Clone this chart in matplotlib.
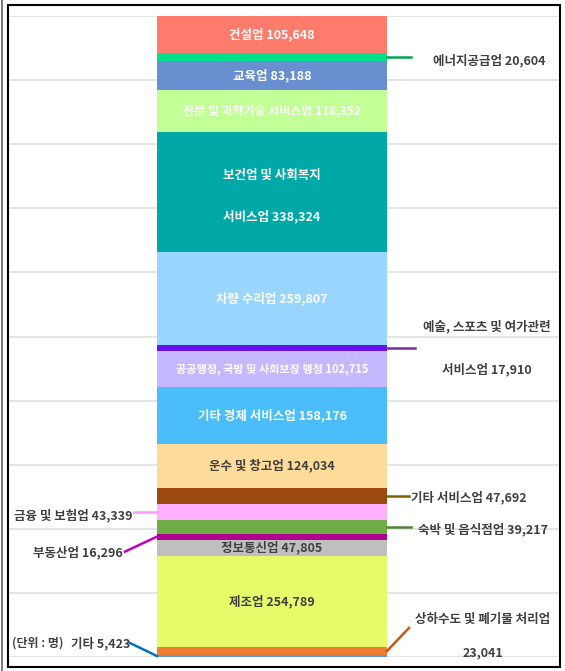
import matplotlib
matplotlib.use('Agg')
import matplotlib.pyplot as plt
import numpy as np
from matplotlib.patches import Rectangle
from matplotlib.lines import Line2D

plt.rcParams['font.family'] = ['Noto Sans CJK KR', 'DejaVu Sans']

# industries, bottom to top of the stacked bar
industries = ['기타', '상하수도 및 폐기물 처리업', '제조업', '정보통신업', '부동산업',
              '숙박 및 음식점업', '금융 및 보험업', '기타 서비스업', '운수 및 창고업',
              '기타 경제 서비스업', '공공행정, 국방 및 사회보장 행정', '예술, 스포츠 및 여가관련 서비스업',
              '차량 수리업', '보건업 및 사회복지 서비스업', '전문 및 과학기술 서비스업',
              '교육업', '에너지공급업', '건설업']
workers = [5423, 23041, 254789, 47805, 16296, 39217, 43339, 47692, 124034,
           158176, 102715, 17910, 259807, 338324, 118352, 83188, 20604, 105648]
colors = ['#5B9BD5', '#ED7D31', '#E6FA6A', '#BFBFBF', '#B0008E', '#70AD47', '#FFB0FF',
          '#9C4A0E', '#FDDB9A', '#4BBEFA', '#C6B8FF', '#6A10F0', '#99D6FF', '#00A8A8',
          '#C2FF96', '#6A8FD0', '#00E08A', '#FF7B6B']

# labels drawn inside the bar: index -> (text, color, size)
inside = {
    17: ('건설업 105,648', 'white', 9),
    15: ('교육업 83,188', 'white', 9),
    14: ('전문 및 과학기술 서비스업 118,352', 'white', 8.6),
    12: ('차량 수리업 259,807', 'white', 9),
    10: ('공공행정, 국방 및 사회보장 행정 102,715', 'white', 8),
    9: ('기타 경제 서비스업 158,176', 'white', 9),
    8: ('운수 및 창고업 124,034', '#404040', 9),
    3: ('정보통신업 47,805', '#404040', 9),
    2: ('제조업 254,789', '#404040', 9),
}

# labels outside: index -> (lines, side, line color, line end (px), text offset (px), line gap (px), ha)
outside = {
    16: (['에너지공급업 20,604'], 'r', '#00A651', (24, 0), (46, -3), 0, 'left'),
    11: (['예술, 스포츠 및 여가관련', '서비스업 17,910'], 'r', '#7030A0', (28, 0), (100, 0), 43, 'center'),
    7: (['기타 서비스업 47,692'], 'r', '#7F6000', (22, 0), (24, -2), 0, 'left'),
    5: (['숙박 및 음식점업 39,217'], 'r', '#548235', (24, 0), (31, -3), 0, 'left'),
    1: (['상하수도 및 폐기물 처리업', '23,041'], 'r', '#C55A11', (22, 23), (96, 15), 33, 'center'),
    6: (['금융 및 보험업 43,339'], 'l', '#FF99FF', (-23, 0), (-25, -3), 0, 'right'),
    4: (['부동산업 16,296'], 'l', '#C000C0', (-32, -15), (-34, -16), 0, 'right'),
    0: (['기타 5,423'], 'l', '#0070C0', (-27, 13), (-27, 13), 0, 'right'),
}

W, H = 565, 671
fig = plt.figure(figsize=(W / 100, H / 100), dpi=100)
ax = fig.add_axes([8 / W, (H - 657) / H, 550 / W, 641 / H])

total = sum(workers)
shares = np.array(workers) / total
bottoms = np.concatenate([[0], np.cumsum(shares)[:-1]])

ax.bar(0, shares, bottom=bottoms, width=1, color=colors, edgecolor='none', zorder=3)

ax.set_xlim(-264 / 230, 286 / 230)
ax.set_ylim(0, 1)
ax.set_yticks(np.arange(0, 1.01, 0.1))
ax.grid(axis='y', color='#E0E0E0', linewidth=1.2, zorder=0)
ax.tick_params(left=False, bottom=False, labelleft=False, labelbottom=False)
for s in ax.spines.values():
    s.set_visible(False)

mids = bottoms + shares / 2
for i, (txt, c, fs) in inside.items():
    ax.text(0, mids[i], txt, ha='center', va='center', color=c, fontsize=fs,
            fontweight='bold', zorder=5)

# 보건업 label on two lines
ax.annotate('보건업 및 사회복지', (0, mids[13]), xytext=(0, 12.5), textcoords='offset points',
            ha='center', va='center', color='white', fontsize=9, fontweight='bold', zorder=5)
ax.annotate('서비스업 338,324', (0, mids[13]), xytext=(0, -17.7), textcoords='offset points',
            ha='center', va='center', color='white', fontsize=9, fontweight='bold', zorder=5)

px = 0.72  # pixel -> points
for i, (lines, side, lc, lend, toff, gap, ha) in outside.items():
    x0 = 0.5 if side == 'r' else -0.5
    x1 = x0 + lend[0] / 230
    y1 = mids[i] + lend[1] / 641
    ax.plot([x0, x1], [mids[i], y1], color=lc, linewidth=1.8, zorder=4, clip_on=False)
    n = len(lines)
    for k, ln in enumerate(lines):
        yoff = toff[1] + (n - 1) * gap / 2 - k * gap
        ax.annotate(ln, (x0, mids[i]), xytext=(toff[0] * px, yoff * px),
                    textcoords='offset points', ha=ha, va='center', color='#404040',
                    fontsize=9, fontweight='bold', zorder=5, annotation_clip=False)

ax.annotate('(단위 : 명)', (-0.5, mids[0]), xytext=(-145 * px, 13 * px), textcoords='offset points',
            ha='left', va='center', color='#404040', fontsize=8.6, fontweight='bold')

# frame around the chart
fig.patches.append(Rectangle((8 / W, 4 / H), 552 / W, 662 / H, transform=fig.transFigure,
                             fill=False, edgecolor='black', linewidth=1.5))
fig.lines.append(Line2D([2 / W, 2 / W], [0, 1], transform=fig.transFigure,
                        color='#606060', linewidth=1.2))

fig.savefig('out.png', dpi=100)
